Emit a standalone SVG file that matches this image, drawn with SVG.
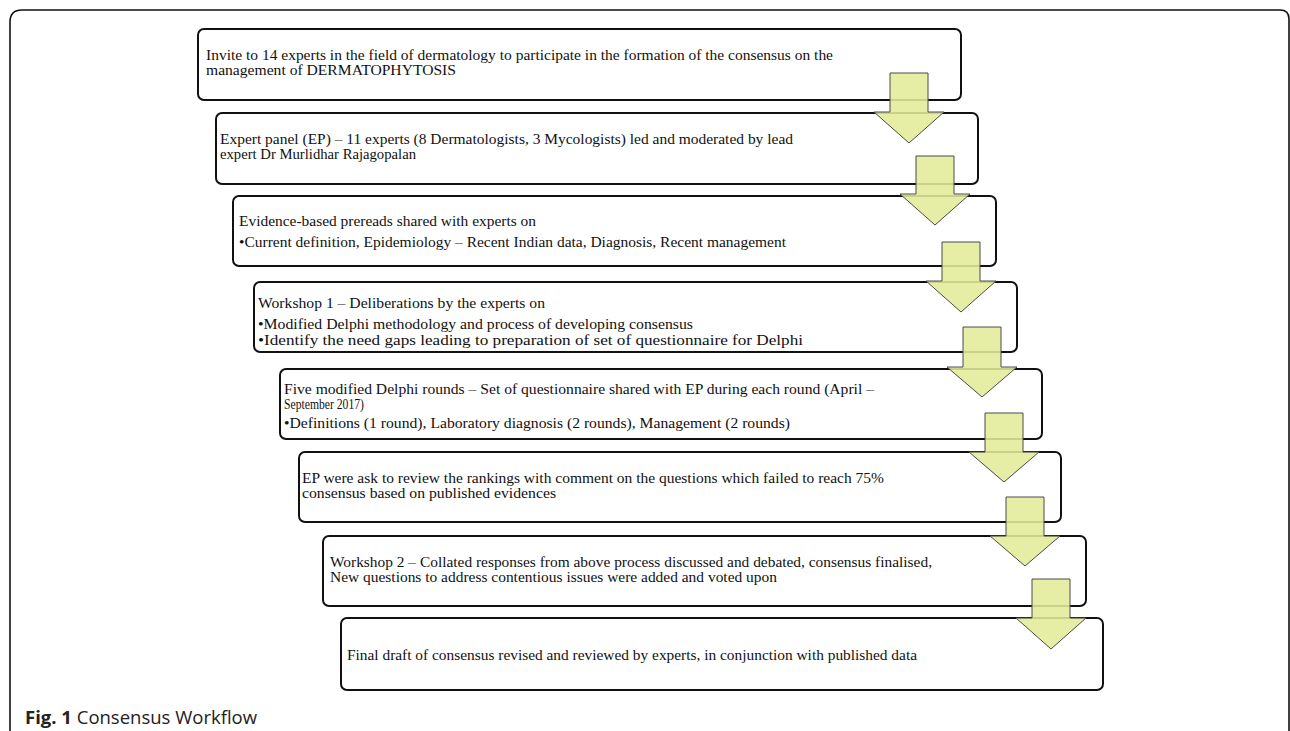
<svg xmlns="http://www.w3.org/2000/svg" width="1290" height="731" viewBox="0 0 1290 731">
<style>
.frame{fill:none;stroke:#111;stroke-width:1.6}
.box{fill:#fff;stroke:#111;stroke-width:2}
.t{font-family:"Liberation Serif","Times New Roman",serif;font-size:15px;fill:#111}
.arr{fill:#e2eb98;fill-opacity:0.88;stroke:#4a4a4a;stroke-width:1}
.cap{font-family:"Open Sans","Noto Sans",sans-serif;font-size:18.5px;fill:#222}
</style>
<rect width="1290" height="731" fill="#fff"/>
<path class="frame" d="M10,740 L10,22 Q10,10 22,10 L1280,10 Q1289,10 1289,19 L1289,740"/>
<g id="n1"><rect class="box" x="198" y="29" width="763" height="71" rx="6"/>
<text class="t" x="206" y="60" textLength="627" lengthAdjust="spacingAndGlyphs">Invite to 14 experts in the field of dermatology to participate in the formation of the consensus on the</text>
<text class="t" x="206" y="75" textLength="250" lengthAdjust="spacingAndGlyphs">management of DERMATOPHYTOSIS</text></g>
<g id="n2"><rect class="box" x="216" y="113" width="762" height="71" rx="6"/>
<text class="t" x="220" y="144" textLength="573" lengthAdjust="spacingAndGlyphs">Expert panel (EP) – 11 experts (8 Dermatologists, 3 Mycologists) led and moderated by lead</text>
<text class="t" x="220" y="159" textLength="196" lengthAdjust="spacingAndGlyphs">expert Dr Murlidhar Rajagopalan</text></g>
<g id="n3"><rect class="box" x="233" y="196" width="763" height="70" rx="6"/>
<text class="t" x="239" y="226" textLength="297" lengthAdjust="spacingAndGlyphs">Evidence-based prereads shared with experts on</text>
<text class="t" x="239" y="247" textLength="547" lengthAdjust="spacingAndGlyphs">•Current definition, Epidemiology – Recent Indian data, Diagnosis, Recent management</text></g>
<g id="n4"><rect class="box" x="254" y="282" width="763" height="70" rx="6"/>
<text class="t" x="258" y="308" textLength="287" lengthAdjust="spacingAndGlyphs">Workshop 1 – Deliberations by the experts on</text>
<text class="t" x="258" y="329" textLength="435" lengthAdjust="spacingAndGlyphs">•Modified Delphi methodology and process of developing consensus</text>
<text class="t" x="258" y="345" textLength="545" lengthAdjust="spacingAndGlyphs">•Identify the need gaps leading to preparation of set of questionnaire for Delphi</text></g>
<g id="n5"><rect class="box" x="280" y="369" width="762" height="70" rx="6"/>
<text class="t" x="284" y="394" textLength="590" lengthAdjust="spacingAndGlyphs">Five modified Delphi rounds – Set of questionnaire shared with EP  during each round (April –</text>
<text class="t" x="284" y="409" textLength="80" lengthAdjust="spacingAndGlyphs">September 2017)</text>
<text class="t" x="284" y="428" textLength="506" lengthAdjust="spacingAndGlyphs">•Definitions (1 round), Laboratory diagnosis (2 rounds), Management (2 rounds)</text></g>
<g id="n6"><rect class="box" x="299" y="452" width="762" height="70" rx="6"/>
<text class="t" x="302" y="483" textLength="582" lengthAdjust="spacingAndGlyphs">EP  were ask to review the rankings with comment on the questions which failed to reach 75%</text>
<text class="t" x="302" y="498" textLength="254" lengthAdjust="spacingAndGlyphs">consensus based on published evidences</text></g>
<g id="n7"><rect class="box" x="323" y="536" width="763" height="70" rx="6"/>
<text class="t" x="330" y="567" textLength="602" lengthAdjust="spacingAndGlyphs">Workshop 2 – Collated responses from above process discussed and debated, consensus finalised,</text>
<text class="t" x="330" y="582" textLength="447" lengthAdjust="spacingAndGlyphs">New questions to address contentious issues were added and voted upon</text></g>
<g id="n8"><rect class="box" x="341" y="618" width="762" height="72" rx="6"/>
<text class="t" x="347" y="660" textLength="570" lengthAdjust="spacingAndGlyphs">Final draft of consensus revised and reviewed by experts, in conjunction with published data</text></g>
<g id="connectors">
<polygon class="arr" points="890,73 928,73 928,112 944,112 909,143 874,112 890,112"/>
<polygon class="arr" points="916,156 954,156 954,194 970,194 935,225 900,194 916,194"/>
<polygon class="arr" points="942,242 980,242 980,281 996,281 961,312 926,281 942,281"/>
<polygon class="arr" points="963,327 1001,327 1001,367 1017,367 982,397 947,367 963,367"/>
<polygon class="arr" points="985,413 1023,413 1023,452 1039,452 1004,482 969,452 985,452"/>
<polygon class="arr" points="1006,497 1044,497 1044,536 1060,536 1025,566 990,536 1006,536"/>
<polygon class="arr" points="1032,579 1070,579 1070,618 1086,618 1051,649 1016,618 1032,618"/>
</g>
<text class="cap" x="25" y="724"><tspan font-weight="bold">Fig. 1</tspan> Consensus Workflow</text>
</svg>
